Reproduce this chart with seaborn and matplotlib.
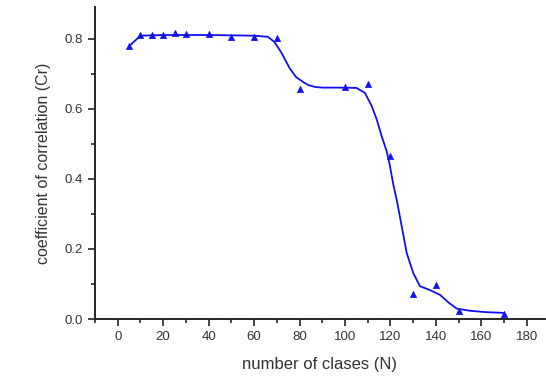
import matplotlib
matplotlib.use('Agg')
import matplotlib.pyplot as plt
import seaborn as sns
import pandas as pd
from matplotlib.ticker import MultipleLocator

sns.set_style('ticks')
plt.rcParams['font.family'] = ['Liberation Sans', 'DejaVu Sans']

# measured points
n_classes = [5, 10, 15, 20, 25, 30, 40, 50, 60, 70, 80, 100, 110, 120, 130, 140, 150, 170]
cr_values = [0.778, 0.81, 0.81, 0.81, 0.816, 0.814, 0.812, 0.804, 0.804, 0.802,
             0.656, 0.661, 0.669, 0.466, 0.073, 0.097, 0.023, 0.014]

# fitted curve
curve_x = [5, 7, 10, 20, 40, 60, 66, 69, 72, 75.7, 78.5, 81.6, 84, 86.8, 90, 100,
           105.1, 108.8, 111.8, 114, 116.2, 118.4, 119.8, 121.3, 122.8, 125,
           127.2, 130.1, 133, 137.4, 141.9, 145.5, 149.2, 155, 162, 169.7]
curve_y = [0.778, 0.79, 0.808, 0.81, 0.81, 0.808, 0.805, 0.79, 0.76, 0.715, 0.69,
           0.676, 0.667, 0.662, 0.66, 0.66, 0.659, 0.645, 0.607, 0.569, 0.521,
           0.478, 0.437, 0.383, 0.34, 0.264, 0.188, 0.131, 0.094, 0.083, 0.069,
           0.048, 0.03, 0.024, 0.02, 0.018]

pts = pd.DataFrame({'N': n_classes, 'Cr': cr_values})
fit = pd.DataFrame({'N': curve_x, 'Cr': curve_y})

fig = plt.figure(figsize=(5.46, 3.85), dpi=100)
ax = fig.add_axes([0.174, 0.171, 0.824, 0.811])

sns.lineplot(data=fit, x='N', y='Cr', ax=ax, color='#1010f0', linewidth=1.3)
sns.scatterplot(data=pts, x='N', y='Cr', ax=ax, color='#1010f0', marker='^',
                s=20, edgecolor='#1010f0', linewidth=0.5, zorder=3)

ax.set_xlim(-10, 188)
ax.set_ylim(0, 0.89)
ax.xaxis.set_major_locator(MultipleLocator(20))
ax.xaxis.set_minor_locator(MultipleLocator(10))
ax.yaxis.set_major_locator(MultipleLocator(0.2))
ax.yaxis.set_minor_locator(MultipleLocator(0.1))
ax.set_yticklabels([f'{v:.1f}' for v in ax.get_yticks()])
ax.tick_params(which='major', direction='out', length=5, width=1.2,
               labelsize=9.5, labelcolor='#333333')
ax.tick_params(which='minor', direction='out', length=3, width=1.2)
for side in ['left', 'bottom']:
    ax.spines[side].set_linewidth(1.4)
sns.despine(ax=ax)

ax.set_xlabel('number of clases (N)', fontsize=12, color='#333333', labelpad=10)
ax.set_ylabel('coefficient of correlation (Cr)', fontsize=11.5, color='#333333', labelpad=10)

fig.savefig('out.png', dpi=100)
